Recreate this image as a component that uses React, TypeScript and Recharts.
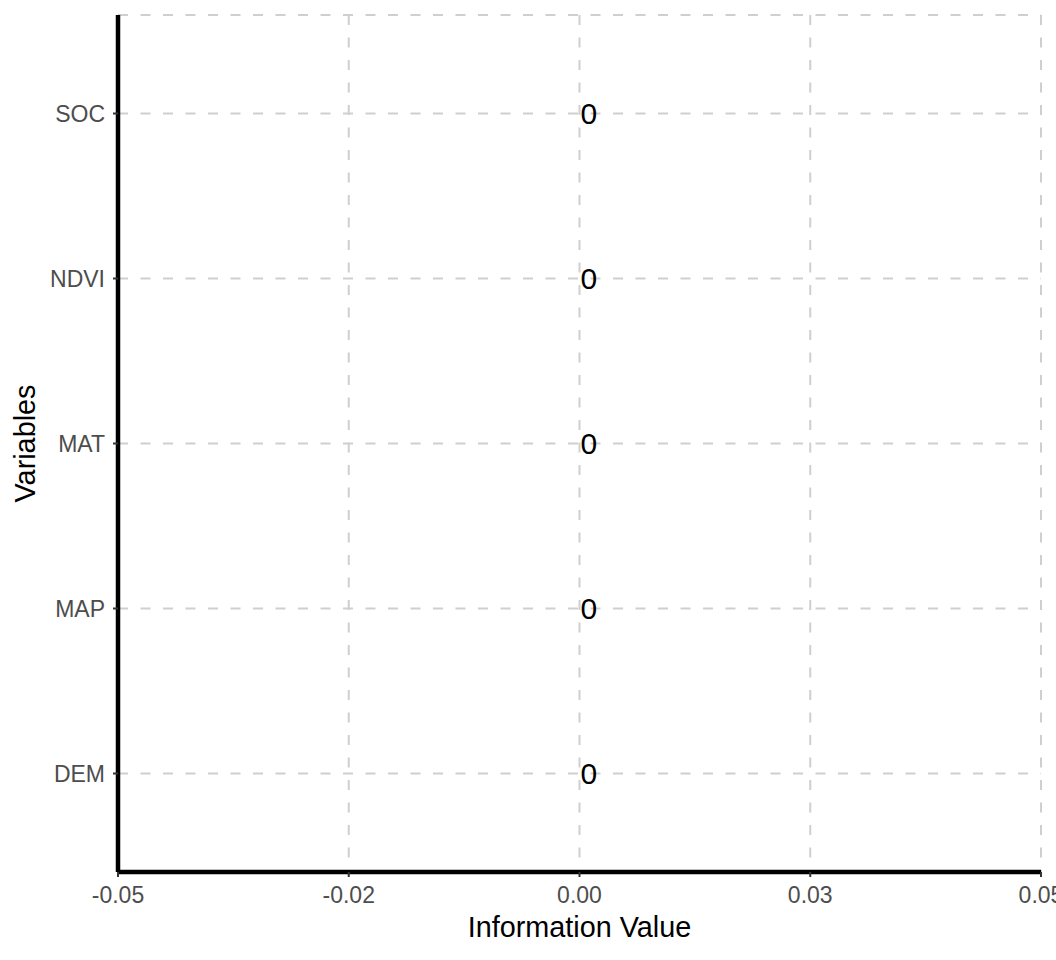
import { ComposedChart, Bar, Scatter, XAxis, YAxis, CartesianGrid } from 'recharts'

// variables top to bottom, all with zero information value
const variables = ['SOC', 'NDVI', 'MAT', 'MAP', 'DEM']
const infoValues = [0, 0, 0, 0, 0]

const xTicks = [-0.05, -0.025, 0, 0.025, 0.05]
const xTickLabels = ['-0.05', '-0.02', '0.00', '0.03', '0.05']

const data = variables.map((name, i) => ({ name, value: infoValues[i] }))

const FONT = 'Liberation Sans, Arial, Helvetica, sans-serif'
const AXIS_TEXT = '#4d4d4d'
const GRID = '#cfcfcf'

// value label drawn just right of the bar end
const ValueLabel = (props: any) => {
  const { cx, cy, payload } = props
  if (cx == null || cy == null) return null
  return (
    <text x={cx + 1} y={cy} dy="0.36em" textAnchor="start" fontSize={30} fill="#000" fontFamily={FONT}>
      {String(payload.value)}
    </text>
  )
}

export default function App() {
  return (
    <div style={{ position: 'absolute', left: 0, top: 0, width: 1056, height: 960, background: '#fff', fontFamily: FONT }}>
      <ComposedChart
        width={1056}
        height={960}
        data={data}
        layout="vertical"
        margin={{ top: 15, right: 15, bottom: 0, left: 0 }}
      >
        <CartesianGrid stroke={GRID} strokeWidth={2} strokeDasharray="10 12.5" />
        <XAxis
          type="number"
          dataKey="value"
          domain={[-0.05, 0.05]}
          ticks={xTicks}
          tickFormatter={(v: number) => xTickLabels[xTicks.indexOf(v)] ?? String(v)}
          height={88}
          axisLine={{ stroke: '#000', strokeWidth: 4.5 }}
          tickLine={{ stroke: '#333', strokeWidth: 2 }}
          tickSize={5}
          tickMargin={10}
          tick={{ fontSize: 23, fill: AXIS_TEXT, fontFamily: FONT }}
          interval={0}
          label={{
            content: (props: any) => {
              const vb = props.viewBox
              return (
                <text
                  x={vb.x + vb.width / 2}
                  y={vb.y + vb.height - 23}
                  textAnchor="middle"
                  fontSize={28.8}
                  fill="#000"
                  fontFamily={FONT}
                >
                  Information Value
                </text>
              )
            },
          }}
        />
        <YAxis
          type="category"
          dataKey="name"
          width={118}
          padding={{ top: 16, bottom: 16 }}
          axisLine={{ stroke: '#000', strokeWidth: 4.5 }}
          tickLine={{ stroke: '#333', strokeWidth: 2 }}
          tickSize={5}
          tickMargin={8}
          tick={{ fontSize: 23, fill: AXIS_TEXT, fontFamily: FONT }}
          interval={0}
          label={{
            content: (props: any) => {
              const vb = props.viewBox
              const cx = 35
              const cy = vb.y + vb.height / 2
              return (
                <text
                  x={cx}
                  y={cy}
                  transform={`rotate(-90 ${cx} ${cy})`}
                  textAnchor="middle"
                  fontSize={28.8}
                  fill="#000"
                  fontFamily={FONT}
                >
                  Variables
                </text>
              )
            },
          }}
        />
        <Bar dataKey="value" fill="#4682b4" isAnimationActive={false} />
        <Scatter dataKey="value" shape={ValueLabel} isAnimationActive={false} />
      </ComposedChart>
    </div>
  )
}
